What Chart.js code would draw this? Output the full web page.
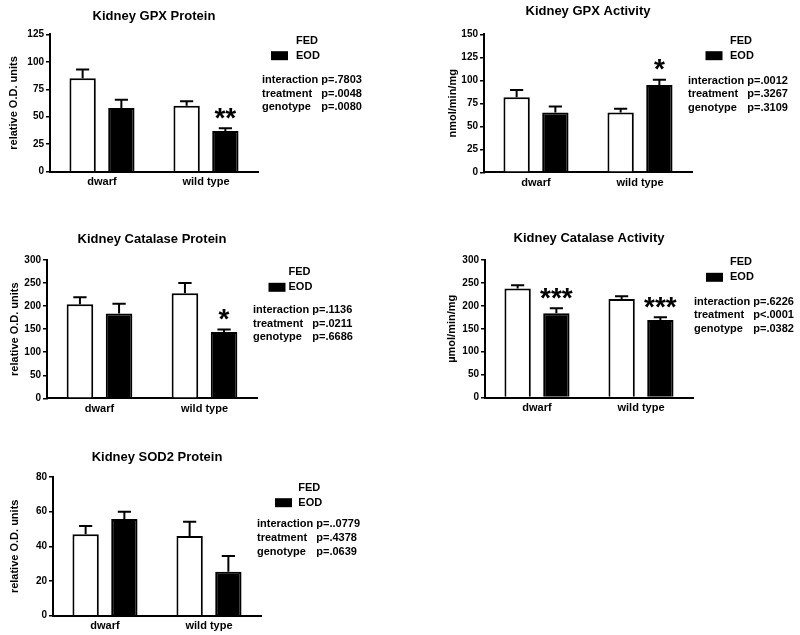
<!DOCTYPE html>
<html>
<head>
<meta charset="utf-8">
<title>Kidney antioxidant enzymes</title>
<script src="https://cdn.jsdelivr.net/npm/chart.js@4.4.0/dist/chart.umd.min.js"></script>
<style>
  body { margin: 0; background: #fff; }
  #page { position: relative; width: 800px; height: 635px; }
  canvas { position: absolute; }
</style>
</head>
<body>
<div id="page">
  <canvas id="gpxProtein" width="400" height="210" style="left:0;top:0"></canvas>
  <canvas id="gpxActivity" width="400" height="210" style="left:400px;top:0"></canvas>
  <canvas id="catProtein" width="400" height="210" style="left:0;top:210px"></canvas>
  <canvas id="catActivity" width="400" height="210" style="left:400px;top:210px"></canvas>
  <canvas id="sodProtein" width="400" height="215" style="left:0;top:420px"></canvas>
</div>
<script>
// shared
const groups = ['dwarf', 'wild type'];
const fedLabel = 'FED';
const eodLabel = 'EOD';
const statLabels = ['interaction', 'treatment', 'genotype'];

// Kidney GPX Protein
const gpxProteinFed = [85, 60];
const gpxProteinFedSem = [8, 4];
const gpxProteinEod = [58, 37];
const gpxProteinEodSem = [7.5, 2.5];
const gpxProteinStars = ['', '**'];
const gpxProteinStats = ['p=.7803', 'p=.0048', 'p=.0080'];
const gpxProteinMax = 125, gpxProteinStep = 25;

// Kidney GPX Activity
const gpxActivityFed = [81.5, 65];
const gpxActivityFedSem = [8, 4];
const gpxActivityEod = [65, 95];
const gpxActivityEodSem = [6.5, 5.5];
const gpxActivityStars = ['', '*'];
const gpxActivityStats = ['p=.0012', 'p=.3267', 'p=.3109'];
const gpxActivityMax = 150, gpxActivityStep = 25;

// Kidney Catalase Protein
const catProteinFed = [204, 228];
const catProteinFedSem = [15, 22];
const catProteinEod = [184, 144];
const catProteinEodSem = [21, 5];
const catProteinStars = ['', '*'];
const catProteinStats = ['p=.1136', 'p=.0211', 'p=.6686'];
const catProteinMax = 300, catProteinStep = 50;

// Kidney Catalase Activity
const catActivityFed = [238, 215];
const catActivityFedSem = [7, 6];
const catActivityEod = [184, 169];
const catActivityEodSem = [11, 6];
const catActivityStars = ['***', '***'];
const catActivityStats = ['p=.6226', 'p<.0001', 'p=.0382'];
const catActivityMax = 300, catActivityStep = 50;

// Kidney SOD2 Protein
const sodProteinFed = [47, 46];
const sodProteinFedSem = [4.7, 8.2];
const sodProteinEod = [55.8, 25.3];
const sodProteinEodSem = [4.1, 9.2];
const sodProteinStars = ['', ''];
const sodProteinStats = ['p=..0779', 'p=.4378', 'p=.0639'];
const sodProteinMax = 80, sodProteinStep = 20;

const FONT = '"Liberation Sans", Arial, Helvetica, sans-serif';
Chart.defaults.font.family = FONT;
Chart.defaults.font.weight = 'bold';
Chart.defaults.color = '#000';

// SEM caps + significance stars
const errorBars = {
    id: 'errorBars',
    afterDatasetsDraw(chart) {
        const ctx = chart.ctx;
        const yScale = chart.scales.y;
        ctx.save();
        ctx.strokeStyle = '#000';
        ctx.fillStyle = '#000';
        ctx.lineWidth = 2;
        chart.data.datasets.forEach((ds, i) => {
            chart.getDatasetMeta(i).data.forEach((bar, j) => {
                const top = yScale.getPixelForValue(ds.data[j] + ds.sem[j]);
                const half = bar.width / 4;
                ctx.beginPath();
                ctx.moveTo(bar.x, bar.y);
                ctx.lineTo(bar.x, top);
                ctx.moveTo(bar.x - half, top);
                ctx.lineTo(bar.x + half, top);
                ctx.stroke();
                if (ds.stars && ds.stars[j]) {
                    ctx.font = 'bold 28px ' + FONT;
                    ctx.textAlign = 'center';
                    ctx.textBaseline = 'alphabetic';
                    const m = ctx.measureText(ds.stars[j]);
                    const centre = top - 15;
                    const base = centre - (m.actualBoundingBoxDescent - m.actualBoundingBoxAscent) / 2;
                    ctx.fillText(ds.stars[j], bar.x, base);
                }
            });
        });
        ctx.restore();
    }
};

// legend swatches and the two-way ANOVA p values on the right
const panelNotes = {
    id: 'panelNotes',
    afterDraw(chart, args, opts) {
        const ctx = chart.ctx;
        ctx.save();
        ctx.textBaseline = 'middle';
        ctx.textAlign = 'left';
        ctx.font = 'bold 11px ' + FONT;
        chart.data.datasets.forEach((ds, i) => {
            const y = opts.legendY + i * 15;
            ctx.fillStyle = ds.backgroundColor;
            ctx.fillRect(opts.swatchX, y - 4.5, 17, 9);
            ctx.fillStyle = '#000';
            ctx.fillText(ds.label, opts.textX, y);
        });
        const colX = opts.statsX + ctx.measureText(statLabels[0] + ' ').width;
        statLabels.forEach((lab, i) => {
            const y = opts.statsY + i * 13.6;
            ctx.fillText(lab, opts.statsX, y);
            ctx.fillText(opts.stats[i], colX, y);
        });
        ctx.restore();
    }
};

function makePanel(id, cfg) {
    const canvas = document.getElementById(id);
    const cx = canvas.offsetLeft, cy = canvas.offsetTop;
    const W = canvas.width, H = canvas.height;
    const [L, T, R, B] = [cfg.area[0] - cx, cfg.area[1] - cy, cfg.area[2] - cx, cfg.area[3] - cy];
    const titleLH = 13 * 1.2;
    const tc = cfg.titleY - cy;
    const xAxisH = 19;

    return new Chart(canvas, {
        type: 'bar',
        data: {
            labels: groups,
            datasets: [
                { label: fedLabel, data: cfg.fed, sem: cfg.fedSem, backgroundColor: '#fff', borderColor: '#000', borderWidth: 2 },
                { label: eodLabel, data: cfg.eod, sem: cfg.eodSem, stars: cfg.stars, backgroundColor: '#000', borderColor: '#000', borderWidth: 2 }
            ]
        },
        options: {
            responsive: false,
            animation: false,
            datasets: { bar: { categoryPercentage: 0.745, barPercentage: 0.68 } },
            layout: { padding: { left: 0, top: 0, right: W - R, bottom: Math.max(0, H - B - xAxisH) } },
            plugins: {
                legend: { display: false },
                tooltip: { enabled: false },
                title: {
                    display: true,
                    text: cfg.title,
                    fullSize: false,
                    color: '#000',
                    font: { size: 13, weight: 'bold' },
                    padding: { top: tc - titleLH / 2, bottom: T - tc - titleLH / 2 }
                },
                panelNotes: {
                    swatchX: cfg.legend[0] - cx, textX: cfg.legend[1] - cx, legendY: cfg.legend[2] - cy,
                    statsX: cfg.statsAt[0] - cx, statsY: cfg.statsAt[1] - cy, stats: cfg.stats
                }
            },
            scales: {
                x: {
                    grid: { display: false, drawTicks: false },
                    border: { color: '#000', width: 2 },
                    ticks: { color: '#000', font: { size: 11, weight: 'bold' }, padding: 4 },
                    afterFit: (s) => { s.height = xAxisH; }
                },
                y: {
                    min: 0,
                    max: cfg.yMax,
                    grid: { drawOnChartArea: false, drawTicks: true, tickLength: 4, color: '#000', lineWidth: 1.5 },
                    border: { color: '#000', width: 2 },
                    ticks: { stepSize: cfg.yStep, color: '#000', font: { size: 10, weight: 'bold' }, padding: 2 },
                    title: {
                        display: true,
                        text: cfg.yTitle,
                        color: '#000',
                        font: { size: 11, weight: 'bold' },
                        padding: { top: cfg.yTitleX - cx - 6.6, bottom: 0 }
                    },
                    afterFit: (s) => { s.width = L; }
                }
            }
        },
        plugins: [errorBars, panelNotes]
    });
}

makePanel('gpxProtein', {
    title: 'Kidney GPX Protein', yTitle: 'relative O.D. units',
    fed: gpxProteinFed, fedSem: gpxProteinFedSem, eod: gpxProteinEod, eodSem: gpxProteinEodSem,
    stars: gpxProteinStars, stats: gpxProteinStats, yMax: gpxProteinMax, yStep: gpxProteinStep,
    area: [50, 34.3, 258, 171.7], titleY: 16.7, yTitleX: 14,
    legend: [271, 296, 40.7], statsAt: [262, 80]
});

makePanel('gpxActivity', {
    title: 'Kidney GPX Activity', yTitle: 'nmol/min/mg',
    fed: gpxActivityFed, fedSem: gpxActivityFedSem, eod: gpxActivityEod, eodSem: gpxActivityEodSem,
    stars: gpxActivityStars, stats: gpxActivityStats, yMax: gpxActivityMax, yStep: gpxActivityStep,
    area: [484, 34.3, 692, 172.3], titleY: 11.7, yTitleX: 452.7,
    legend: [705.5, 730, 40.7], statsAt: [688, 80.7]
});

makePanel('catProtein', {
    title: 'Kidney Catalase Protein', yTitle: 'relative O.D. units',
    fed: catProteinFed, fedSem: catProteinFedSem, eod: catProteinEod, eodSem: catProteinEodSem,
    stars: catProteinStars, stats: catProteinStats, yMax: catProteinMax, yStep: catProteinStep,
    area: [47, 260, 257, 398.3], titleY: 239.3, yTitleX: 15,
    legend: [268.5, 288.5, 272.3], statsAt: [253, 310]
});

makePanel('catActivity', {
    title: 'Kidney Catalase Activity', yTitle: 'µmol/min/mg',
    fed: catActivityFed, fedSem: catActivityFedSem, eod: catActivityEod, eodSem: catActivityEodSem,
    stars: catActivityStars, stats: catActivityStats, yMax: catActivityMax, yStep: catActivityStep,
    area: [485, 260, 693, 397.5], titleY: 238.3, yTitleX: 452.3,
    legend: [706, 730, 262.3], statsAt: [694, 301.7]
});

makePanel('sodProtein', {
    title: 'Kidney SOD2 Protein', yTitle: 'relative O.D. units',
    fed: sodProteinFed, fedSem: sodProteinFedSem, eod: sodProteinEod, eodSem: sodProteinEodSem,
    stars: sodProteinStars, stats: sodProteinStats, yMax: sodProteinMax, yStep: sodProteinStep,
    area: [53, 477, 261, 615.7], titleY: 457.7, yTitleX: 15,
    legend: [275, 298.3, 487.7], statsAt: [257, 524.3]
});
</script>
</body>
</html>
